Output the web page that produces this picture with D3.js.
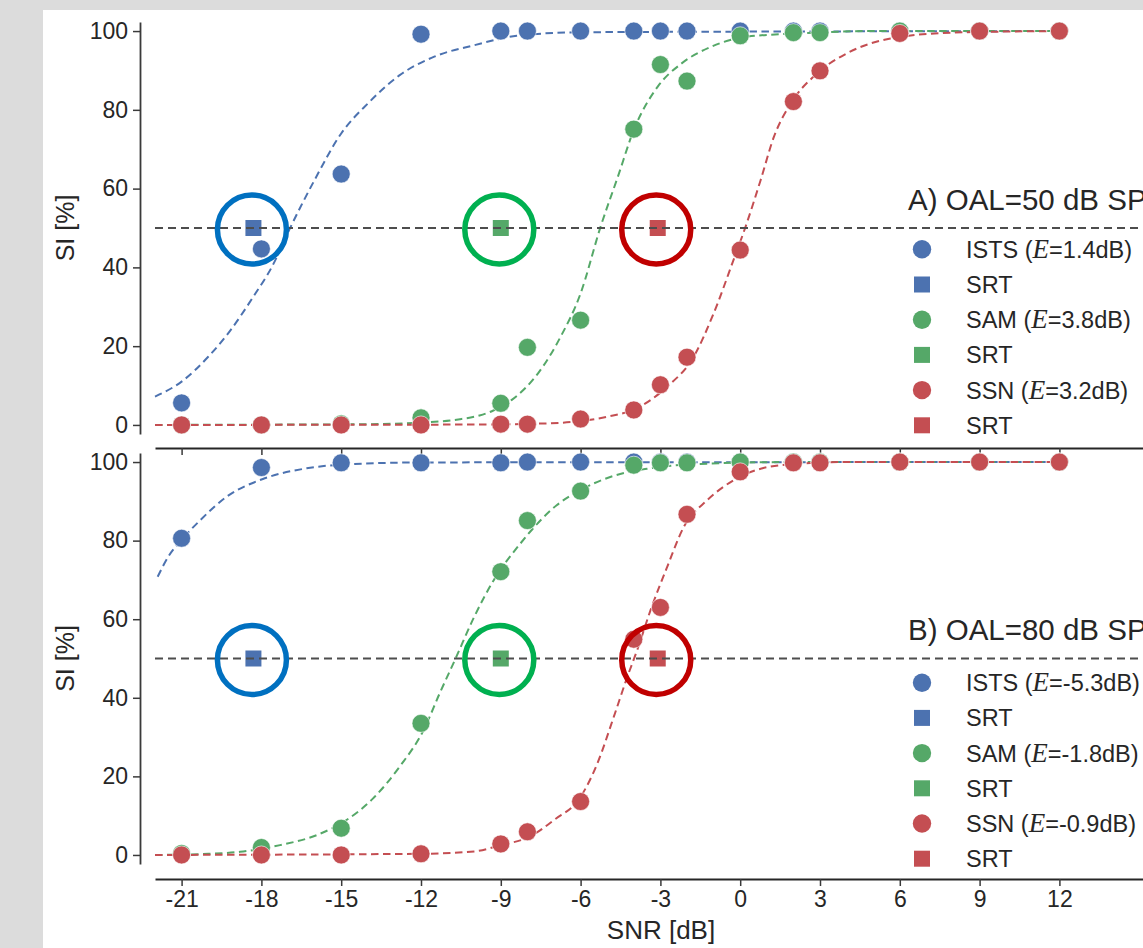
<!DOCTYPE html>
<html lang="en">
<head>
<meta charset="utf-8">
<title>SI vs SNR</title>
<script src="https://cdn.jsdelivr.net/npm/d3@7"></script>
<style>
  body { margin: 0; }
  svg { display: block; font-family: "Liberation Sans", Arial, sans-serif; }
</style>
</head>
<body>
<script>

// measured SNR levels (dB)
var snr = [-21, -18, -15, -12, -9, -8, -6, -4, -3, -2, 0, 2, 3, 6, 9, 12];
var xTicks = [-21, -18, -15, -12, -9, -6, -3, 0, 3, 6, 9, 12];
var yTicks = [0, 20, 40, 60, 80, 100];

var names = ["ISTS", "SAM", "SSN"];
var colors = ["#4c72b0", "#55a868", "#c44e52"];
var ringColors = ["#0070c0", "#00b050", "#c00000"];
var srt = [-18.3, -9.0, -3.1];

// A) OAL=50 dB SPL
var istsA = [5.6, 44.7, 63.7, 99.2, 100, 100, 100, 100, 100, 100, 100, 100, 100, 100, 100, 100];
var samA  = [0, 0, 0.3, 1.8, 5.5, 19.7, 26.6, 75.1, 91.5, 87.3, 98.8, 99.6, 99.6, 100, 100, 100];
var ssnA  = [0, 0, 0, 0, 0.2, 0.2, 1.5, 3.8, 10.2, 17.2, 44.4, 82.1, 89.9, 99.4, 100, 100];
var effA = ["1.4", "3.8", "3.2"];

// fitted curves, [snr, %]
var fitIstsA = [[-22,7.2],[-21,11],[-20,17.3],[-19.2,23.7],[-18.3,32.6],[-17.6,40.2],[-16.9,50.3],[-16,62.2],[-15,74],[-14,81.6],[-12.8,88.8],[-11.5,93.5],[-10,96.4],[-8.4,98.8],[-6,99.7],[12,100]];
var fitSamA  = [[-22,0],[-14,0.2],[-12,0.6],[-10.6,1.4],[-9.8,2.4],[-9.3,3.6],[-8.6,6.3],[-7.6,13.1],[-6.75,22.4],[-6,33.4],[-5.25,50.3],[-4.6,63],[-4,74.9],[-3.1,85.9],[-2.2,91.8],[-1.1,96],[0.3,98.6],[2.2,99.4],[5,100],[12,100]];
var fitSsnA  = [[-22,0],[-10,0.1],[-7.25,0.4],[-5,2.1],[-3.9,4.2],[-2.75,9.7],[-1.75,17.3],[-1,28.3],[-0.25,41.9],[0.2,50.3],[0.77,62.2],[1.27,73.2],[1.9,81.6],[2.9,89.3],[4,94.3],[5.65,98.1],[8,99.6],[12,100]];

// B) OAL=80 dB SPL
var istsB = [80.6, 98.6, 99.8, 99.8, 99.8, 100, 100, 100, 100, 100, 100, 100, 100, 100, 100, 100];
var samB  = [0.4, 1.9, 6.8, 33.5, 72.1, 85.1, 92.6, 99.2, 99.8, 99.8, 100, 100, 100, 100, 100, 100];
var ssnB  = [0, 0, 0, 0.3, 2.8, 5.9, 13.6, 54.9, 63.0, 86.7, 97.5, 99.8, 99.8, 100, 100, 100];
var effB = ["-5.3", "-1.8", "-0.9"];

var fitIstsB = [[-21.9,70.8],[-21.5,75.9],[-21,80.2],[-20.3,85.2],[-19.3,91.2],[-17.9,95.8],[-16.3,98.4],[-14.5,99.5],[-12,99.9],[12,100]];
var fitSamB  = [[-22,0],[-20,0.3],[-18.8,0.8],[-17.3,2.5],[-15.9,5.1],[-14.8,8.9],[-13.8,14.4],[-12.8,22.5],[-11.9,31.8],[-11.3,41.1],[-10.7,50],[-10,60.6],[-9.26,70],[-8.26,79.3],[-6.9,89],[-6,92.9],[-4.75,96.5],[-3.5,98.3],[-1.6,99.5],[2,100],[12,100]];
var fitSsnB  = [[-22,0],[-12,0.3],[-10,0.9],[-9,2.5],[-7.9,4.7],[-7,8.9],[-6,14.8],[-5.37,23.3],[-4.75,35.2],[-4.24,45.4],[-3.87,52.2],[-3.37,62.3],[-2.74,73.4],[-2.12,83.5],[-1.24,90.3],[-0.24,95.4],[1.52,99.2],[4,100],[12,100]];

var W = 1143, H = 948;
var textColor = "#262626";

var svg = d3.select("body").append("svg")
    .attr("width", W)
    .attr("height", H);

// gray frame around the white figure
svg.append("rect").attr("width", W).attr("height", H).attr("fill", "#dcdcdc");
svg.append("rect").attr("x", 43).attr("y", 10).attr("width", W - 43).attr("height", H - 10).attr("fill", "#fff");

var x = d3.scaleLinear().domain([-22, 16]).range([155, 155 + 38 * 26.6]);

var panels = [
  { title: "A) OAL=50 dB SPL", eff: effA, series: [istsA, samA, ssnA], fits: [fitIstsA, fitSamA, fitSsnA],
    yRange: [434, 22], xAxisY: 448, titleY: 210, legendY: 249.3, labels: false },
  { title: "B) OAL=80 dB SPL", eff: effB, series: [istsB, samB, ssnB], fits: [fitIstsB, fitSamB, fitSsnB],
    yRange: [864, 453], xAxisY: 879, titleY: 640, legendY: 682.7, labels: true }
];

panels.forEach(function(p) {
  var y = d3.scaleLinear().domain([-2.3, 102.3]).range(p.yRange);
  var g = svg.append("g");

  // left axis (offset spine)
  var ya = g.append("g")
      .attr("transform", "translate(140,0)")
      .call(d3.axisLeft(y).tickValues(yTicks).tickSize(7).tickPadding(5).tickSizeOuter(0));
  ya.select(".domain").attr("stroke", "#3a3a3a").attr("stroke-width", 1.8);
  ya.selectAll(".tick line").attr("stroke", "#3a3a3a").attr("stroke-width", 1.5);
  ya.selectAll("text").attr("font-size", 23).attr("fill", textColor)
      .attr("font-family", "Liberation Sans, Arial, sans-serif");

  // bottom axis
  var xa = g.append("g")
      .attr("transform", "translate(0," + p.xAxisY + ")")
      .call(d3.axisBottom(x).tickValues(xTicks).tickSize(7).tickPadding(5).tickSizeOuter(0));
  xa.select(".domain").attr("stroke", "#262626").attr("stroke-width", 1.8);
  xa.selectAll(".tick line").attr("stroke", "#3a3a3a").attr("stroke-width", 1.5);
  xa.selectAll("text").attr("font-size", 23).attr("fill", textColor)
      .attr("font-family", "Liberation Sans, Arial, sans-serif")
      .text(function(d) { return p.labels ? (d < 0 ? "-" + Math.abs(d) : d) : ""; });

  // y label
  var yMid = (p.yRange[0] + p.yRange[1]) / 2;
  g.append("text")
      .attr("transform", "translate(74," + yMid + ") rotate(-90)")
      .attr("text-anchor", "middle")
      .attr("font-size", 25)
      .attr("fill", textColor)
      .text("SI [%]");

  // fitted curves
  var line = d3.line()
      .x(function(d) { return x(d[0]); })
      .y(function(d) { return y(d[1]); })
      .curve(d3.curveMonotoneX);

  p.fits.forEach(function(f, i) {
    g.append("path")
        .datum(f)
        .attr("d", line)
        .attr("fill", "none")
        .attr("stroke", colors[i])
        .attr("stroke-width", 2)
        .attr("stroke-dasharray", "7.5,4.5");
  });

  // measured points
  p.series.forEach(function(s, i) {
    g.selectAll(null)
        .data(s)
        .enter()
        .append("circle")
        .attr("cx", function(d, j) { return x(snr[j]); })
        .attr("cy", function(d) { return y(d); })
        .attr("r", 9)
        .attr("fill", colors[i])
        .attr("stroke", "#fff")
        .attr("stroke-width", 0.6);
  });

  // SRT squares
  g.selectAll(null)
      .data(srt)
      .enter()
      .append("rect")
      .attr("x", function(d) { return x(d) - 8; })
      .attr("y", y(50) - 8)
      .attr("width", 16)
      .attr("height", 16)
      .attr("fill", function(d, i) { return colors[i]; });

  // 50 % line
  g.append("line")
      .attr("x1", x(-22)).attr("x2", W)
      .attr("y1", y(50)).attr("y2", y(50))
      .attr("stroke", "#4d4d4d")
      .attr("stroke-width", 2)
      .attr("stroke-dasharray", "8,5");

  // annotation rings
  g.selectAll(null)
      .data(srt)
      .enter()
      .append("circle")
      .attr("cx", function(d) { return x(d) - 1.5; })
      .attr("cy", y(50) + 1.5)
      .attr("r", 34.5)
      .attr("fill", "none")
      .attr("stroke", function(d, i) { return ringColors[i]; })
      .attr("stroke-width", 5.5);

  // title
  g.append("text")
      .attr("x", 908)
      .attr("y", p.titleY)
      .attr("font-size", 29.5)
      .attr("fill", textColor)
      .text(p.title);

  // legend
  var rowH = 35.2;
  names.forEach(function(n, i) {
    var cy = p.legendY + 2 * i * rowH;
    g.append("circle").attr("cx", 922).attr("cy", cy).attr("r", 9.2).attr("fill", colors[i]);
    var t = g.append("text")
        .attr("x", 966).attr("y", cy).attr("dy", "0.36em")
        .attr("font-size", 23.5).attr("fill", textColor);
    t.append("tspan").text(n + " (");
    t.append("tspan").attr("font-family", "Liberation Serif, serif").attr("font-style", "italic")
        .attr("font-size", 27).text("E");
    t.append("tspan").text("=" + p.eff[i] + "dB)");

    var sy = cy + rowH;
    g.append("rect").attr("x", 914).attr("y", sy - 8).attr("width", 16).attr("height", 16).attr("fill", colors[i]);
    g.append("text")
        .attr("x", 966).attr("y", sy).attr("dy", "0.36em")
        .attr("font-size", 23.5).attr("fill", textColor)
        .text("SRT");
  });
});

// x label
svg.append("text")
    .attr("x", 661)
    .attr("y", 939)
    .attr("text-anchor", "middle")
    .attr("font-size", 26)
    .attr("fill", textColor)
    .text("SNR [dB]");

</script>
</body>
</html>
